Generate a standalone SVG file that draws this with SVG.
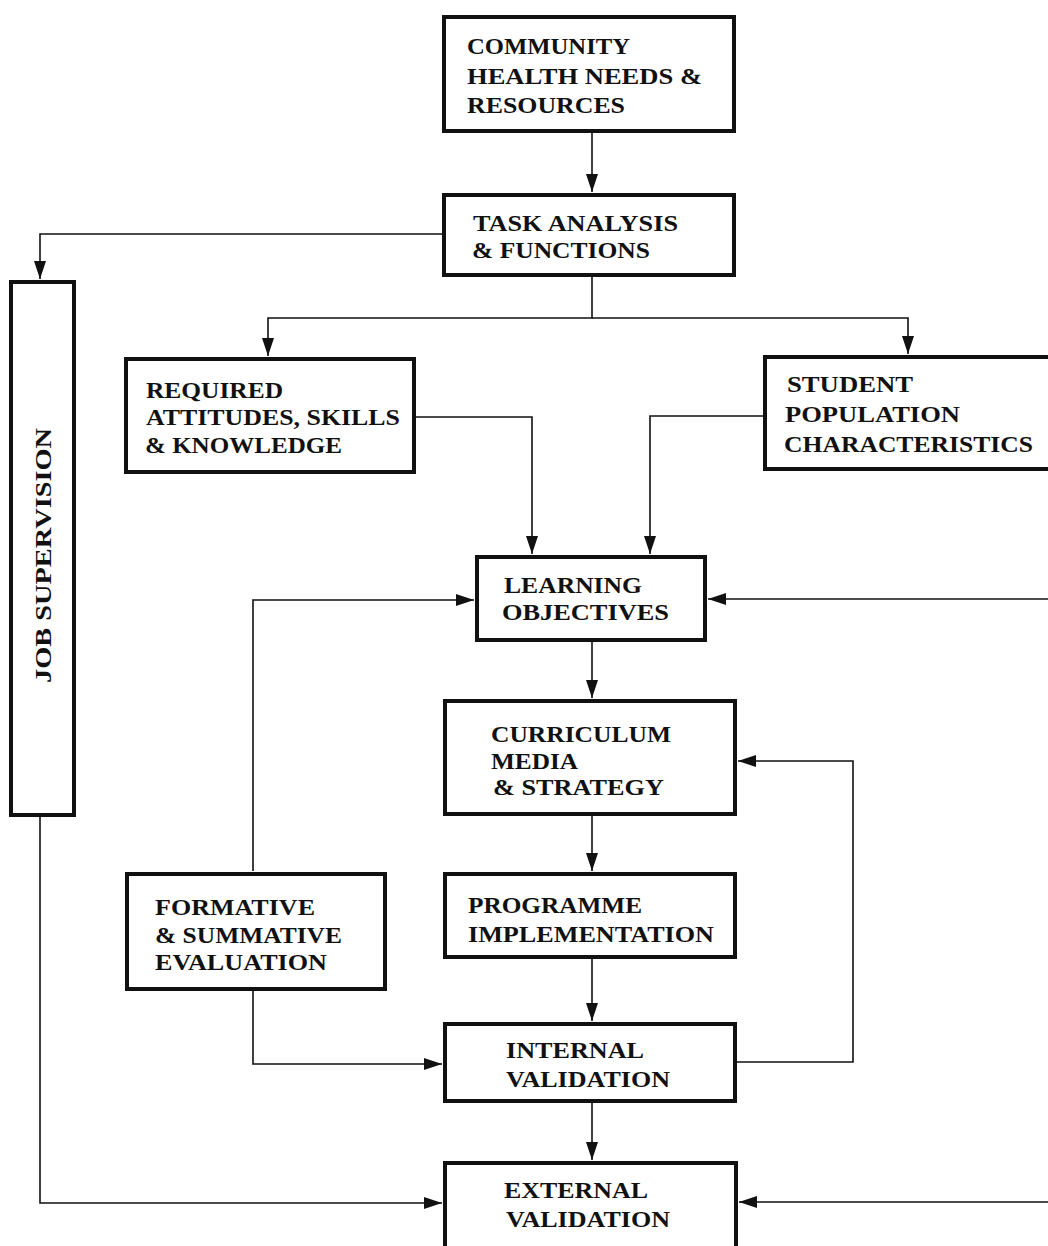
<svg xmlns="http://www.w3.org/2000/svg" width="1048" height="1246" viewBox="0 0 1048 1246">
<style>
.box{fill:#fff;stroke:#111;stroke-width:4}
.t{font-family:"Liberation Serif","Times New Roman",serif;font-weight:bold;font-size:22.5px;fill:#111}
.c{fill:none;stroke:#111;stroke-width:1.6}
</style>
<defs>
<marker id="ah" markerUnits="userSpaceOnUse" markerWidth="20" markerHeight="14" refX="18" refY="6" orient="auto">
<path d="M0,0 L18,6 L0,12 z" fill="#111"/>
</marker>
</defs>
<rect width="1048" height="1246" fill="#fff"/>
<g id="connectors">
<path class="c" d="M592,133 V192" marker-end="url(#ah)"/>
<path class="c" d="M442,234 H40 V279" marker-end="url(#ah)"/>
<path class="c" d="M592,277 V318 H268 V356" marker-end="url(#ah)"/>
<path class="c" d="M592,318 H908 V354" marker-end="url(#ah)"/>
<path class="c" d="M416,417 H532 V554" marker-end="url(#ah)"/>
<path class="c" d="M763,416 H650 V554" marker-end="url(#ah)"/>
<path class="c" d="M253,871 V600 H474" marker-end="url(#ah)"/>
<path class="c" d="M1048,599 H708" marker-end="url(#ah)"/>
<path class="c" d="M592,642 V698" marker-end="url(#ah)"/>
<path class="c" d="M592,816 V871" marker-end="url(#ah)"/>
<path class="c" d="M592,959 V1021" marker-end="url(#ah)"/>
<path class="c" d="M592,1103 V1160" marker-end="url(#ah)"/>
<path class="c" d="M737,1062 H853 V761 H738" marker-end="url(#ah)"/>
<path class="c" d="M253,991 V1064 H442" marker-end="url(#ah)"/>
<path class="c" d="M40,817 V1203 H442" marker-end="url(#ah)"/>
<path class="c" d="M1048,1202 H739" marker-end="url(#ah)"/>
</g>
<g id="community">
<rect class="box" x="444" y="17" width="290" height="114"/>
<text class="t" x="467" y="54" textLength="163" lengthAdjust="spacingAndGlyphs">COMMUNITY</text>
<text class="t" x="467" y="84" textLength="235" lengthAdjust="spacingAndGlyphs">HEALTH NEEDS &amp;</text>
<text class="t" x="467" y="113" textLength="158" lengthAdjust="spacingAndGlyphs">RESOURCES</text>
</g>
<g id="task">
<rect class="box" x="444" y="195" width="290" height="80"/>
<text class="t" x="473" y="231" textLength="205" lengthAdjust="spacingAndGlyphs">TASK ANALYSIS</text>
<text class="t" x="472" y="258" textLength="178" lengthAdjust="spacingAndGlyphs">&amp; FUNCTIONS</text>
</g>
<g id="job">
<rect class="box" x="11" y="282" width="63" height="533"/>
<text class="t" transform="translate(51,683) rotate(-90)" x="0" y="0" textLength="255" lengthAdjust="spacingAndGlyphs">JOB SUPERVISION</text>
</g>
<g id="required">
<rect class="box" x="126" y="359" width="288" height="113"/>
<text class="t" x="146" y="398" textLength="137" lengthAdjust="spacingAndGlyphs">REQUIRED</text>
<text class="t" x="146" y="425" textLength="254" lengthAdjust="spacingAndGlyphs">ATTITUDES, SKILLS</text>
<text class="t" x="145" y="453" textLength="197" lengthAdjust="spacingAndGlyphs">&amp; KNOWLEDGE</text>
</g>
<g id="student">
<rect class="box" x="765" y="357" width="290" height="112"/>
<text class="t" x="787" y="392" textLength="126" lengthAdjust="spacingAndGlyphs">STUDENT</text>
<text class="t" x="785" y="422" textLength="175" lengthAdjust="spacingAndGlyphs">POPULATION</text>
<text class="t" x="784" y="452" textLength="249" lengthAdjust="spacingAndGlyphs">CHARACTERISTICS</text>
</g>
<g id="objectives">
<rect class="box" x="477" y="557" width="228" height="83"/>
<text class="t" x="504" y="593" textLength="138" lengthAdjust="spacingAndGlyphs">LEARNING</text>
<text class="t" x="502" y="620" textLength="167" lengthAdjust="spacingAndGlyphs">OBJECTIVES</text>
</g>
<g id="curriculum">
<rect class="box" x="445" y="701" width="290" height="113"/>
<text class="t" x="491" y="742" textLength="180" lengthAdjust="spacingAndGlyphs">CURRICULUM</text>
<text class="t" x="491" y="769" textLength="87" lengthAdjust="spacingAndGlyphs">MEDIA</text>
<text class="t" x="493" y="795" textLength="171" lengthAdjust="spacingAndGlyphs">&amp; STRATEGY</text>
</g>
<g id="formative">
<rect class="box" x="127" y="874" width="258" height="115"/>
<text class="t" x="155" y="915" textLength="160" lengthAdjust="spacingAndGlyphs">FORMATIVE</text>
<text class="t" x="155" y="943" textLength="187" lengthAdjust="spacingAndGlyphs">&amp; SUMMATIVE</text>
<text class="t" x="155" y="970" textLength="172" lengthAdjust="spacingAndGlyphs">EVALUATION</text>
</g>
<g id="programme">
<rect class="box" x="445" y="874" width="290" height="83"/>
<text class="t" x="468" y="913" textLength="174" lengthAdjust="spacingAndGlyphs">PROGRAMME</text>
<text class="t" x="468" y="942" textLength="246" lengthAdjust="spacingAndGlyphs">IMPLEMENTATION</text>
</g>
<g id="internal">
<rect class="box" x="445" y="1024" width="290" height="77"/>
<text class="t" x="506" y="1058" textLength="138" lengthAdjust="spacingAndGlyphs">INTERNAL</text>
<text class="t" x="506" y="1087" textLength="164" lengthAdjust="spacingAndGlyphs">VALIDATION</text>
</g>
<g id="external">
<rect class="box" x="445" y="1163" width="291" height="100"/>
<text class="t" x="504" y="1198" textLength="144" lengthAdjust="spacingAndGlyphs">EXTERNAL</text>
<text class="t" x="506" y="1227" textLength="164" lengthAdjust="spacingAndGlyphs">VALIDATION</text>
</g>
</svg>
